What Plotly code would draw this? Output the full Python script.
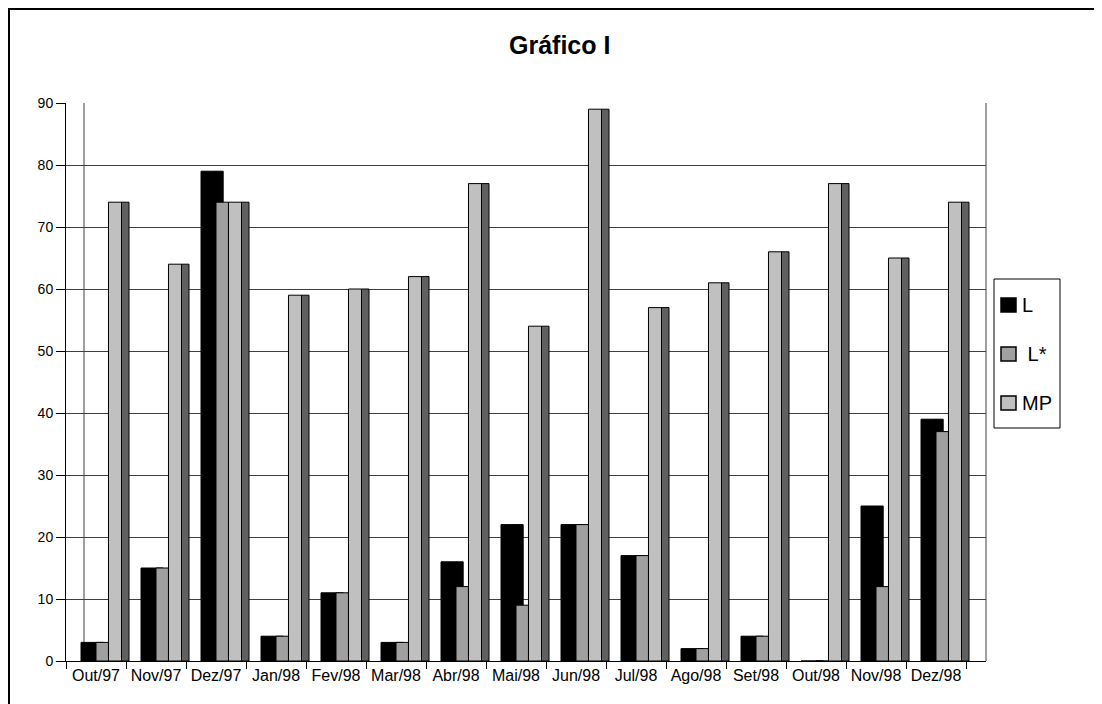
import plotly.graph_objects as go

categories = ["Out/97", "Nov/97", "Dez/97", "Jan/98", "Fev/98", "Mar/98", "Abr/98", "Mai/98",
              "Jun/98", "Jul/98", "Ago/98", "Set/98", "Out/98", "Nov/98", "Dez/98"]
L_vals = [3, 15, 79, 4, 11, 3, 16, 22, 22, 17, 2, 4, 0, 25, 39]
Lstar_vals = [3, 15, 74, 4, 11, 3, 12, 9, 22, 17, 2, 4, 0, 12, 37]
MP_vals = [74, 64, 74, 59, 60, 62, 77, 54, 89, 57, 61, 66, 77, 65, 74]
y_ticks = [0, 10, 20, 30, 40, 50, 60, 70, 80, 90]
series_names = ["L", " L*", "MP"]

# page body has an 8px default margin: work in page pixels, convert to figure pixels
OFF = 8
W, H = 1102 - OFF, 704 - OFF
PLOT_L, PLOT_R, PLOT_T, PLOT_B = 66, 986, 103, 661  # page pixels
ML, MT = PLOT_L - OFF, PLOT_T - OFF
MR, MB = W - (PLOT_R - OFF), H - (PLOT_B - OFF)
PW, PH = PLOT_R - PLOT_L, PLOT_B - PLOT_T

def px(x):
    return (x - PLOT_L) / PW

def py(y):
    return (PLOT_B - y) / PH

FONT = "Arial, Liberation Sans, sans-serif"
C_L, C_LS, C_MP, C_SIDE = "#000000", "#a0a0a0", "#c0c0c0", "#606060"
edge = dict(color="#000000", width=1)

fig = go.Figure()
# depth face of L (visible only above L*)
fig.add_trace(go.Bar(x=categories, y=L_vals, offset=0.0, width=0.12,
                     marker=dict(color=C_L, line=edge), showlegend=False, hoverinfo="skip"))
fig.add_trace(go.Bar(x=categories, y=L_vals, offset=-0.25, width=0.25, name=series_names[0],
                     marker=dict(color=C_L, line=edge), showlegend=False))
fig.add_trace(go.Bar(x=categories, y=Lstar_vals, offset=0.0, width=0.208, name=series_names[1],
                     marker=dict(color=C_LS, line=edge), showlegend=False))
fig.add_trace(go.Bar(x=categories, y=MP_vals, offset=0.208, width=0.217, name=series_names[2],
                     marker=dict(color=C_MP, line=edge), showlegend=False))
# depth face of MP
fig.add_trace(go.Bar(x=categories, y=MP_vals, offset=0.425, width=0.125,
                     marker=dict(color=C_SIDE, line=edge), showlegend=False, hoverinfo="skip"))

shapes = [
    # back wall edges
    dict(type="line", xref="paper", yref="paper", x0=px(84), x1=px(84), y0=0, y1=1,
         line=dict(color="#808080", width=1.5), layer="below"),
    dict(type="line", xref="paper", yref="paper", x0=1, x1=1, y0=0, y1=1,
         line=dict(color="#808080", width=1.5), layer="below"),
    # outer chart border
    dict(type="rect", xref="paper", yref="paper", x0=px(9), x1=px(1120), y0=py(9), y1=py(720),
         line=dict(color="#000000", width=2)),
    # legend box
    dict(type="rect", xref="paper", yref="paper", x0=px(994), x1=px(1060), y0=py(279), y1=py(428),
         line=dict(color="#000000", width=1), fillcolor="white"),
]
annotations = [
    dict(text="<b>Gráfico I</b>", xref="paper", yref="paper", x=px(559), y=py(45),
         xanchor="center", yanchor="middle", showarrow=False,
         font=dict(family=FONT, size=25, color="#000000")),
]
leg_colors = [C_L, C_LS, C_MP]
leg_y = [305, 354, 403]
for name, col, yc in zip(series_names, leg_colors, leg_y):
    shapes.append(dict(type="rect", xref="paper", yref="paper", x0=px(1001), x1=px(1016),
                       y0=py(yc - 7), y1=py(yc + 7), fillcolor=col,
                       line=dict(color="#000000", width=1.5)))
    annotations.append(dict(text=name.replace(" ", "&nbsp;"), xref="paper", yref="paper", x=px(1020), y=py(yc),
                            xanchor="left", yanchor="middle", showarrow=False,
                            font=dict(family=FONT, size=20, color="#000000")))

fig.update_layout(
    width=W, height=H, margin=dict(l=ML, r=MR, t=MT, b=MB),
    paper_bgcolor="white", plot_bgcolor="white",
    barmode="overlay", showlegend=False,
    shapes=shapes, annotations=annotations,
    xaxis=dict(type="category", range=[-0.5, 14.5 + 20 / 60], showline=True, linecolor="#000000",
               linewidth=1, ticks="outside", tickson="boundaries", ticklen=7, tickcolor="#000000",
               showgrid=False, tickfont=dict(family=FONT, size=16, color="#000000"), fixedrange=True),
    yaxis=dict(range=[0, 90], tickvals=y_ticks, showline=True, linecolor="#000000", linewidth=1,
               ticks="outside", ticklen=9, tickcolor="#000000", showgrid=True, gridcolor="#404040",
               gridwidth=1, zeroline=False, tickfont=dict(family=FONT, size=14, color="#000000"),
               fixedrange=True),
    font=dict(family=FONT),
)

fig.write_html("out.html")
